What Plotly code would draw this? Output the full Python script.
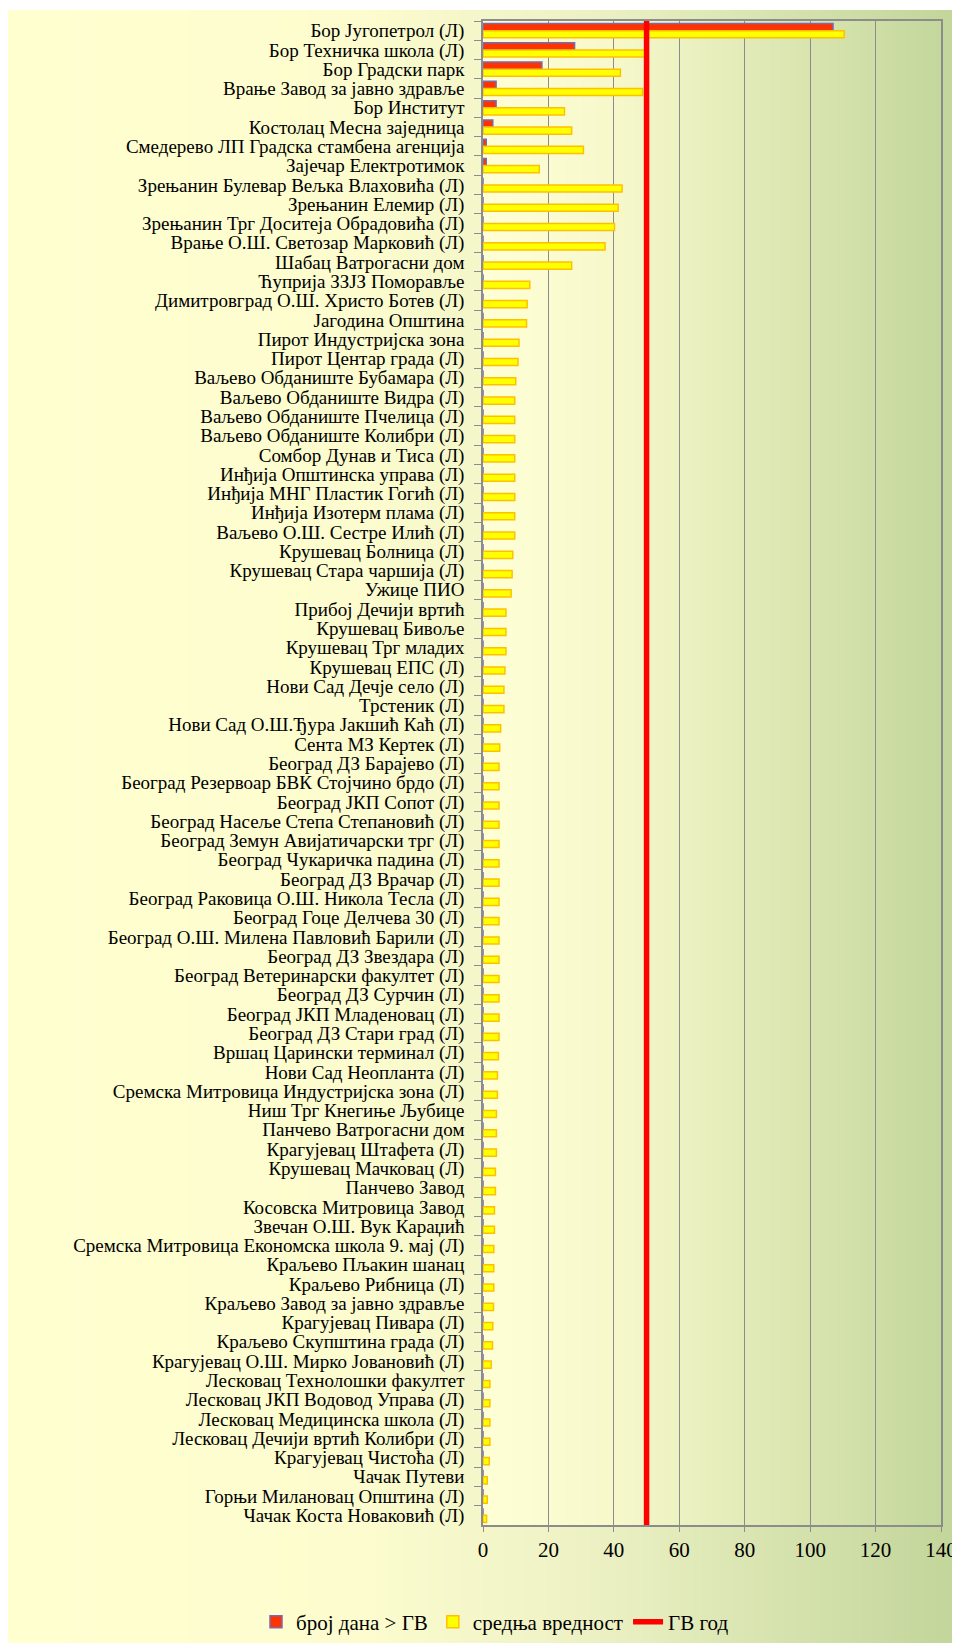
import base64
import struct
import zlib

import plotly.graph_objects as go

stations = [
    "Бор Југопетрол (Л)",
    "Бор Техничка школа (Л)",
    "Бор Градски парк",
    "Врање Завод за јавно здравље",
    "Бор Институт",
    "Костолац Месна заједница",
    "Смедерево ЛП Градска стамбена агенција",
    "Зајечар Електротимок",
    "Зрењанин Булевар Вељка Влаховића (Л)",
    "Зрењанин Елемир (Л)",
    "Зрењанин Трг Доситеја Обрадовића (Л)",
    "Врање О.Ш. Светозар Марковић (Л)",
    "Шабац Ватрогасни дом",
    "Ћуприја ЗЗЈЗ Поморавље",
    "Димитровград О.Ш. Христо Ботев (Л)",
    "Јагодина Општина",
    "Пирот Индустријска зона",
    "Пирот Центар града (Л)",
    "Ваљево Обданиште Бубамара (Л)",
    "Ваљево Обданиште Видра (Л)",
    "Ваљево Обданиште Пчелица (Л)",
    "Ваљево Обданиште Колибри (Л)",
    "Сомбор Дунав и Тиса (Л)",
    "Инђија Општинска управа (Л)",
    "Инђија МНГ Пластик Гогић (Л)",
    "Инђија Изотерм плама (Л)",
    "Ваљево О.Ш. Сестре Илић (Л)",
    "Крушевац Болница (Л)",
    "Крушевац Стара чаршија (Л)",
    "Ужице ПИО",
    "Прибој Дечији вртић",
    "Крушевац Бивоље",
    "Крушевац Трг младих",
    "Крушевац ЕПС (Л)",
    "Нови Сад Дечје село (Л)",
    "Трстеник (Л)",
    "Нови Сад О.Ш.Ђура Јакшић Каћ (Л)",
    "Сента МЗ Кертек (Л)",
    "Београд ДЗ Барајево (Л)",
    "Београд Резервоар БВК Стојчино брдо (Л)",
    "Београд ЈКП Сопот (Л)",
    "Београд Насеље Степа Степановић (Л)",
    "Београд Земун Авијатичарски трг (Л)",
    "Београд Чукаричка падина (Л)",
    "Београд ДЗ Врачар (Л)",
    "Београд Раковица О.Ш. Никола Тесла (Л)",
    "Београд Гоце Делчева 30 (Л)",
    "Београд О.Ш. Милена Павловић Барили (Л)",
    "Београд ДЗ Звездара (Л)",
    "Београд Ветеринарски факултет (Л)",
    "Београд ДЗ Сурчин (Л)",
    "Београд ЈКП Младеновац (Л)",
    "Београд ДЗ Стари град (Л)",
    "Вршац Царински терминал (Л)",
    "Нови Сад Неопланта (Л)",
    "Сремска Митровица Индустријска зона (Л)",
    "Ниш Трг Кнегиње Љубице",
    "Панчево Ватрогасни дом",
    "Крагујевац Штафета (Л)",
    "Крушевац Мачковац (Л)",
    "Панчево Завод",
    "Косовска Митровица Завод",
    "Звечан О.Ш. Вук Караџић",
    "Сремска Митровица Економска школа 9. мај (Л)",
    "Краљево Пљакин шанац",
    "Краљево Рибница (Л)",
    "Краљево Завод за јавно здравље",
    "Крагујевац Пивара (Л)",
    "Краљево Скупштина града (Л)",
    "Крагујевац О.Ш. Мирко Јовановић (Л)",
    "Лесковац Технолошки факултет",
    "Лесковац ЈКП Водовод Управа (Л)",
    "Лесковац Медицинска школа (Л)",
    "Лесковац Дечији вртић Колибри (Л)",
    "Крагујевац Чистоћа (Л)",
    "Чачак Путеви",
    "Горњи Милановац Општина (Л)",
    "Чачак Коста Новаковић (Л)",
]

days_over = [
    107, 28, 18, 4, 4, 3, 1, 1, 0, 0,
    0, 0, 0, 0, 0, 0, 0, 0, 0, 0,
    0, 0, 0, 0, 0, 0, 0, 0, 0, 0,
    0, 0, 0, 0, 0, 0, 0, 0, 0, 0,
    0, 0, 0, 0, 0, 0, 0, 0, 0, 0,
    0, 0, 0, 0, 0, 0, 0, 0, 0, 0,
    0, 0, 0, 0, 0, 0, 0, 0, 0, 0,
    0, 0, 0, 0, 0, 0, 0, 0,
]

mean_values = [
    110.4, 50.4, 42.0, 48.8, 24.9, 27.1, 30.7, 17.2, 42.5, 41.3,
    40.2, 37.3, 27.1, 14.3, 13.5, 13.3, 11.0, 10.7, 10.0, 9.7,
    9.7, 9.7, 9.7, 9.7, 9.7, 9.7, 9.7, 9.1, 8.9, 8.6,
    7.0, 7.0, 7.0, 6.7, 6.4, 6.4, 5.4, 5.1, 4.9, 4.9,
    4.9, 4.9, 4.9, 4.9, 4.9, 4.9, 4.9, 4.9, 4.9, 4.9,
    4.9, 4.9, 4.9, 4.7, 4.4, 4.4, 4.1, 4.1, 4.1, 3.8,
    3.8, 3.5, 3.5, 3.3, 3.3, 3.3, 3.2, 3.0, 2.9, 2.5,
    2.1, 2.1, 2.1, 2.1, 1.9, 1.3, 1.3, 1.1,
]

limit_value = 50
x_ticks = [0, 20, 40, 60, 80, 100, 120, 140]

series_names = ["број дана > ГВ", "средња вредност", "ГВ год"]

# page body has an 8px margin, so the figure is laid out 8px in from the window
W, H = 952, 1635
ML, MR, MT, MB = 475, 19, 13, 118
PW, PH = W - ML - MR, H - MT - MB


def gradient_uri(stops, n=256):
    """1px high PNG with a horizontal colour gradient, as a data URI."""
    row = bytearray([0])
    for i in range(n):
        t = i / (n - 1)
        for (t0, c0), (t1, c1) in zip(stops, stops[1:]):
            if t0 <= t <= t1:
                f = (t - t0) / (t1 - t0)
                row += bytes(round(a + (b - a) * f) for a, b in zip(c0, c1))
                break

    def chunk(tag, data):
        crc = zlib.crc32(tag + data) & 0xFFFFFFFF
        return struct.pack(">I", len(data)) + tag + data + struct.pack(">I", crc)

    png = (
        b"\x89PNG\r\n\x1a\n"
        + chunk(b"IHDR", struct.pack(">IIBBBBB", n, 1, 8, 2, 0, 0, 0))
        + chunk(b"IDAT", zlib.compress(bytes(row)))
        + chunk(b"IEND", b"")
    )
    return "data:image/png;base64," + base64.b64encode(png).decode()


chart_bg = gradient_uri([
    (0.0, (255, 255, 208)),
    (0.38, (252, 252, 206)),
    (0.62, (236, 241, 196)),
    (1.0, (194, 213, 154)),
])
plot_bg = gradient_uri([
    (0.0, (255, 255, 214)),
    (0.3, (246, 248, 202)),
    (1.0, (196, 215, 156)),
])

serif = "'Liberation Serif', 'Times New Roman', serif"
font = dict(family=serif, size=21, color="black")
label_font = dict(family=serif, size=19, color="black")
grey = "#8C8C8C"

fig = go.Figure()

fig.add_trace(
    go.Bar(
        y=stations,
        x=days_over,
        orientation="h",
        name=series_names[0],
        marker=dict(color="#FF3300", line=dict(color="#7A6AB0", width=1.5)),
    )
)

fig.add_trace(
    go.Bar(
        y=stations,
        x=mean_values,
        orientation="h",
        name=series_names[1],
        marker=dict(color="#FFFF00", line=dict(color="#FFC000", width=1.5)),
    )
)

# annual limit line, drawn on a hidden 0..1 axis so it spans the whole plot
fig.add_trace(
    go.Scatter(
        x=[limit_value, limit_value],
        y=[0, 1],
        yaxis="y2",
        mode="lines",
        name=series_names[2],
        line=dict(color="#FF0000", width=5.5),
    )
)

fig.update_layout(
    width=W,
    height=H,
    autosize=False,
    margin=dict(l=ML, r=MR, t=MT, b=MB, autoexpand=False),
    paper_bgcolor="white",
    plot_bgcolor="rgba(0,0,0,0)",
    font=font,
    barmode="group",
    bargap=0.26,
    bargroupgap=0,
    showlegend=True,
    # anchored left of the plot area and below it, so the row may run wide
    legend=dict(
        orientation="h",
        x=(248 - ML) / PW,
        xanchor="left",
        y=(H - 1614 - MB) / PH,
        yanchor="middle",
        font=font,
        bgcolor="rgba(0,0,0,0)",
        itemwidth=30,
        tracegroupgap=0,
    ),
    xaxis=dict(
        range=[0, 140],
        tickvals=x_ticks,
        showgrid=True,
        gridcolor=grey,
        gridwidth=1,
        zeroline=False,
        showline=True,
        linecolor=grey,
        linewidth=1.5,
        mirror=True,
        ticks="outside",
        ticklen=5,
        tickcolor=grey,
        tickfont=font,
        ticklabelstandoff=0,
        fixedrange=True,
    ),
    yaxis=dict(
        type="category",
        autorange="reversed",
        tickmode="linear",
        dtick=1,
        showgrid=False,
        showline=True,
        linecolor=grey,
        linewidth=1.5,
        mirror=True,
        ticks="outside",
        tickson="boundaries",
        ticklen=7,
        tickcolor=grey,
        tickfont=label_font,
        ticklabelstandoff=13,
        automargin=False,
    ),
    yaxis2=dict(
        overlaying="y",
        range=[0, 1],
        visible=False,
        fixedrange=True,
    ),
    images=[
        dict(
            source=chart_bg,
            xref="paper",
            yref="paper",
            x=-ML / PW,
            y=(H - 2 - MB) / PH,
            sizex=W / PW,
            sizey=(H - 2) / PH,
            xanchor="left",
            yanchor="top",
            sizing="stretch",
            layer="below",
        ),
        dict(
            source=plot_bg,
            xref="paper",
            yref="paper",
            x=0,
            y=1,
            sizex=1,
            sizey=1,
            xanchor="left",
            yanchor="top",
            sizing="stretch",
            layer="below",
        ),
    ],
)

fig.write_html("out.html")
